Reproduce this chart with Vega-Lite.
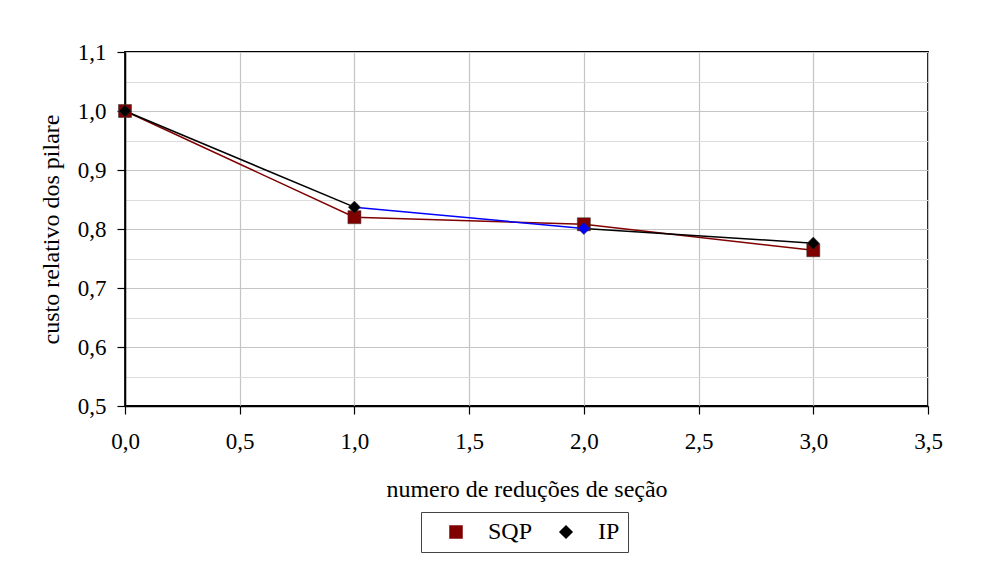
{
  "$schema": "https://vega.github.io/schema/vega-lite/v6.json",
  "width": 803,
  "height": 354,
  "autosize": "none",
  "padding": {"left": 125, "top": 52, "right": 65, "bottom": 155},
  "background": "white",
  "config": {
    "font": "Liberation Serif",
    "view": {"stroke": "black", "strokeWidth": 1.8},
    "axis": {
      "labelFont": "Liberation Serif",
      "titleFont": "Liberation Serif",
      "labelFontSize": 23,
      "titleFontSize": 24,
      "titleFontWeight": "normal",
      "labelColor": "black",
      "titleColor": "black",
      "domainColor": "black",
      "tickColor": "black",
      "tickSize": 8,
      "domainWidth": 1.5,
      "tickWidth": 1.2,
      "gridColor": "#c4c4c4",
      "gridWidth": 1.2,
      "labelFlush": false
    },
    "legend": {"labelFont": "Liberation Serif", "labelFontSize": 24, "labelColor": "black"}
  },
  "datasets": {
    "trechos": [
      {"trecho": "SQP", "grupo": "SQP", "x": 0, "y": 1.0},
      {"trecho": "SQP", "grupo": "SQP", "x": 1, "y": 0.820},
      {"trecho": "SQP", "grupo": "SQP", "x": 2, "y": 0.808},
      {"trecho": "SQP", "grupo": "SQP", "x": 3, "y": 0.764},
      {"trecho": "IP a", "grupo": "IP", "x": 0, "y": 1.0},
      {"trecho": "IP a", "grupo": "IP", "x": 1, "y": 0.837},
      {"trecho": "IP b", "grupo": "IP*", "x": 1, "y": 0.837},
      {"trecho": "IP b", "grupo": "IP*", "x": 2, "y": 0.801},
      {"trecho": "IP c", "grupo": "IP", "x": 2, "y": 0.801},
      {"trecho": "IP c", "grupo": "IP", "x": 3, "y": 0.776}
    ],
    "pontos": [
      {"serie": "SQP", "grupo": "SQP", "x": 0, "y": 1.0},
      {"serie": "SQP", "grupo": "SQP", "x": 1, "y": 0.820},
      {"serie": "SQP", "grupo": "SQP", "x": 2, "y": 0.808},
      {"serie": "SQP", "grupo": "SQP", "x": 3, "y": 0.764},
      {"serie": "IP", "grupo": "IP", "x": 0, "y": 1.0},
      {"serie": "IP", "grupo": "IP", "x": 1, "y": 0.837},
      {"serie": "IP", "grupo": "IP*", "x": 2, "y": 0.801},
      {"serie": "IP", "grupo": "IP", "x": 3, "y": 0.776}
    ]
  },
  "resolve": {"axis": {"y": "independent"}},
  "layer": [
    {
      "data": {"name": "trechos"},
      "mark": {"type": "line", "strokeWidth": 1.5},
      "encoding": {
        "x": {
          "field": "x", "type": "quantitative",
          "scale": {"domain": [0, 3.5], "nice": false, "zero": false},
          "axis": {
            "values": [0, 0.5, 1, 1.5, 2, 2.5, 3, 3.5],
            "labelExpr": "replace(format(datum.value, '.1f'), '.', ',')",
            "title": "numero de reduções de seção",
            "labelPadding": 16,
            "titlePadding": 24,
            "grid": true,
            "labelFlush": false
          }
        },
        "y": {
          "field": "y", "type": "quantitative",
          "scale": {"domain": [0.5, 1.1], "nice": false, "zero": false},
          "axis": {
            "orient": "left",
            "grid": true,
            "gridColor": "#dcdcdc",
            "values": [0.55, 0.65, 0.75, 0.85, 0.95, 1.05],
            "labels": false,
            "ticks": false,
            "domain": false,
            "title": null
          }
        },
        "color": {
          "field": "grupo", "type": "nominal",
          "scale": {"domain": ["SQP", "IP", "IP*"], "range": ["#800000", "#000000", "#0000ff"]}
        },
        "detail": {"field": "trecho"},
        "order": {"field": "x"}
      }
    },
    {
      "data": {"name": "pontos"},
      "mark": {"type": "point", "filled": true, "opacity": 1, "stroke": "#333333", "strokeWidth": 0.5},
      "encoding": {
        "x": {"field": "x", "type": "quantitative"},
        "y": {
          "field": "y", "type": "quantitative",
          "axis": {
            "orient": "left",
            "values": [0.5, 0.6, 0.7, 0.8, 0.9, 1.0, 1.1],
            "labelExpr": "replace(format(datum.value, '.1f'), '.', ',')",
            "grid": true,
            "labelPadding": 11,
            "title": "custo relativo dos pilare",
            "titlePadding": 14
          }
        },
        "color": {
          "field": "grupo", "type": "nominal",
          "scale": {"domain": ["SQP", "IP", "IP*"], "range": ["#800000", "#000000", "#0000ff"]},
          "legend": {
            "values": ["SQP", "IP"],
            "title": null,
            "orient": "none",
            "legendX": 296,
            "legendY": 460,
            "direction": "horizontal",
            "strokeColor": "#444444",
            "padding": 8,
            "symbolOffset": 15,
            "labelOffset": 20,
            "columnPadding": 6,
            "symbolSize": 144
          }
        },
        "shape": {
          "field": "grupo", "type": "nominal",
          "scale": {"domain": ["SQP", "IP", "IP*"], "range": ["square", "diamond", "diamond"]},
          "legend": null
        },
        "size": {"field": "serie", "type": "nominal", "scale": {"domain": ["SQP", "IP"], "range": [170, 150]}, "legend": null}
      }
    }
  ]
}
